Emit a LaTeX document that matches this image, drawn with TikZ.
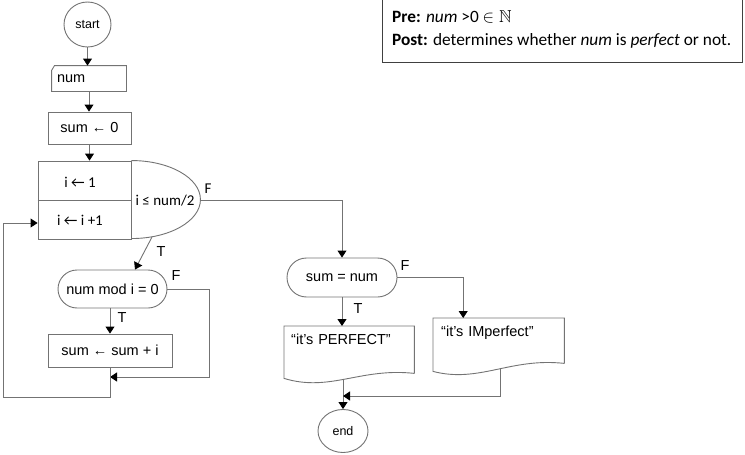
\documentclass[tikz,border=0pt]{standalone}
\usepackage{fontspec}
\usepackage{amssymb}
\setmainfont{Liberation Sans}
\newfontfamily\calibri{Carlito}
\usetikzlibrary{arrows.meta}
\usetikzlibrary{shapes.geometric, shapes.misc}

\begin{document}
\begin{tikzpicture}[x=1pt,y=-1pt,
  line/.style={draw=black!55,line width=0.9pt},
  flow/.style={line,-{Triangle[length=7pt,width=9pt,color=black]}},
  box/.style={line,rectangle,inner sep=0pt,font=\fontsize{14.5}{16}\selectfont},
  pill/.style={line,rounded rectangle,inner sep=0pt,font=\fontsize{14.5}{16}\selectfont},
  term/.style={line,ellipse,inner sep=0pt,font=\fontsize{12.5}{14}\selectfont},
  doc/.style={rectangle,anchor=north west,inner xsep=7pt,inner ysep=4pt,text height=14pt,align=left,font=\fontsize{14.5}{16}\selectfont},
  lbl/.style={inner sep=0pt,font=\fontsize{14.5}{16}\selectfont},
  clbl/.style={inner sep=0pt,font=\calibri\fontsize{15}{17}\selectfont}]
\useasboundingbox (0,0) rectangle (745,455);

% pre and post conditions
\draw[black!75,line width=0.8pt] (382,-2) rectangle (742,62);
\node[anchor=west,inner sep=0pt,font=\calibri\fontsize{17.3}{19}\selectfont] (pre) at (392,17) {\textbf{Pre:} \textit{num} >0 $\in\mathbb{N}$};
\node[anchor=west,inner sep=0pt,font=\calibri\fontsize{17.3}{19}\selectfont] (post) at (392,41) {\textbf{Post:} determines whether \textit{num} is \textit{perfect} or not.};

\node[term,minimum width=47,minimum height=45] (start) at (87.5,24.5) {start};
\node[box,draw=none,minimum width=74,minimum height=25,text width=64pt,align=left] (num) at (89,78.5) {num};
\draw[line] (num.north west) ++(3,0) -- (num.north east) -- (num.south east) -- (num.south west) -- ++(0,-21) -- cycle;
\node[box,minimum width=83,minimum height=32] (init) at (89.5,128) {sum ← 0};

% for loop
\node[box,minimum width=93,minimum height=78] (loop) at (84.5,200) {};
\draw[line] (loop.west) -- (loop.east);
\draw[line] (loop.north east) arc[start angle=-90,end angle=90,x radius=69,y radius=39];
\node[clbl] (first) at (80,182) {i ← 1};
\node[clbl] (next) at (80,220) {i ← i +1};
\node[clbl] (cond) at (165,201) {i ≤ num/2};
\coordinate (condF) at (200,200);
\coordinate (condT) at (152,237);

\node[pill,minimum width=109,minimum height=38] (test) at (112.5,289) {num mod i = 0};
\node[box,minimum width=124,minimum height=33] (add) at (110,350.5) {sum ← sum + i};

\node[pill,minimum width=110,minimum height=39] (eq) at (342,277.5) {sum = num};
\node[doc,text width=116pt,text depth=25pt] (perf) at (284,326) {“it's PERFECT”};
\draw[line] (perf.south east) -- (perf.north east) -- (perf.north west) -- (perf.south west) -- ++(0,5) .. controls +(46,14) and +(-54,-6) .. (perf.south east);
\node[doc,inner xsep=8pt,text width=115pt,text depth=23pt] (imp) at (433,318) {“it's IMperfect”};
\draw[line] (imp.south east) -- (imp.north east) -- (imp.north west) -- (imp.south west) -- ++(0,8) .. controls +(46,12) and +(-54,-6) .. (imp.south east);
\node[term,minimum width=50,minimum height=43] (end) at (343,431) {end};
\coordinate (perfout) at (343,380);
\coordinate (impout) at (500,369);
\coordinate (join1) at (110,377);
\coordinate (join2) at (343,396);
\coordinate (back) at (3,397);

\draw[flow] (start.south) -- (start.south |- num.north);
\draw[flow] (num.south) -- (num.south |- init.north);
\draw[flow] (init.south) -- (init.south |- loop.north);
\draw[flow] (condT) -- ([xshift=22.5pt]test.north);
\node[lbl] (t1) at (161,252) {T};
\draw[flow] (condF) -| (eq.north);
\node[clbl] (f1) at (208,189) {F};
\draw[flow] (test.south -| add.north) -- (add.north);
\node[lbl] (t2) at (122,318) {T};
\draw[flow] (test.east) -- ++(42,0) |- (join1);
\node[lbl] (f2) at (176,276) {F};
\draw[flow] (add.south) |- (back) |- ([yshift=-23pt]loop.west);

\draw[flow] (eq.east) -| ([xshift=-35.5pt]imp.north);
\node[lbl] (f3) at (405,266) {F};
\draw[flow] (eq.south) -- (eq.south |- perf.north);
\node[lbl] (t3) at (358,309) {T};
\draw[flow] (perfout) -- (end.north);
\draw[flow] (impout) |- (join2);

\end{tikzpicture}
\end{document}
